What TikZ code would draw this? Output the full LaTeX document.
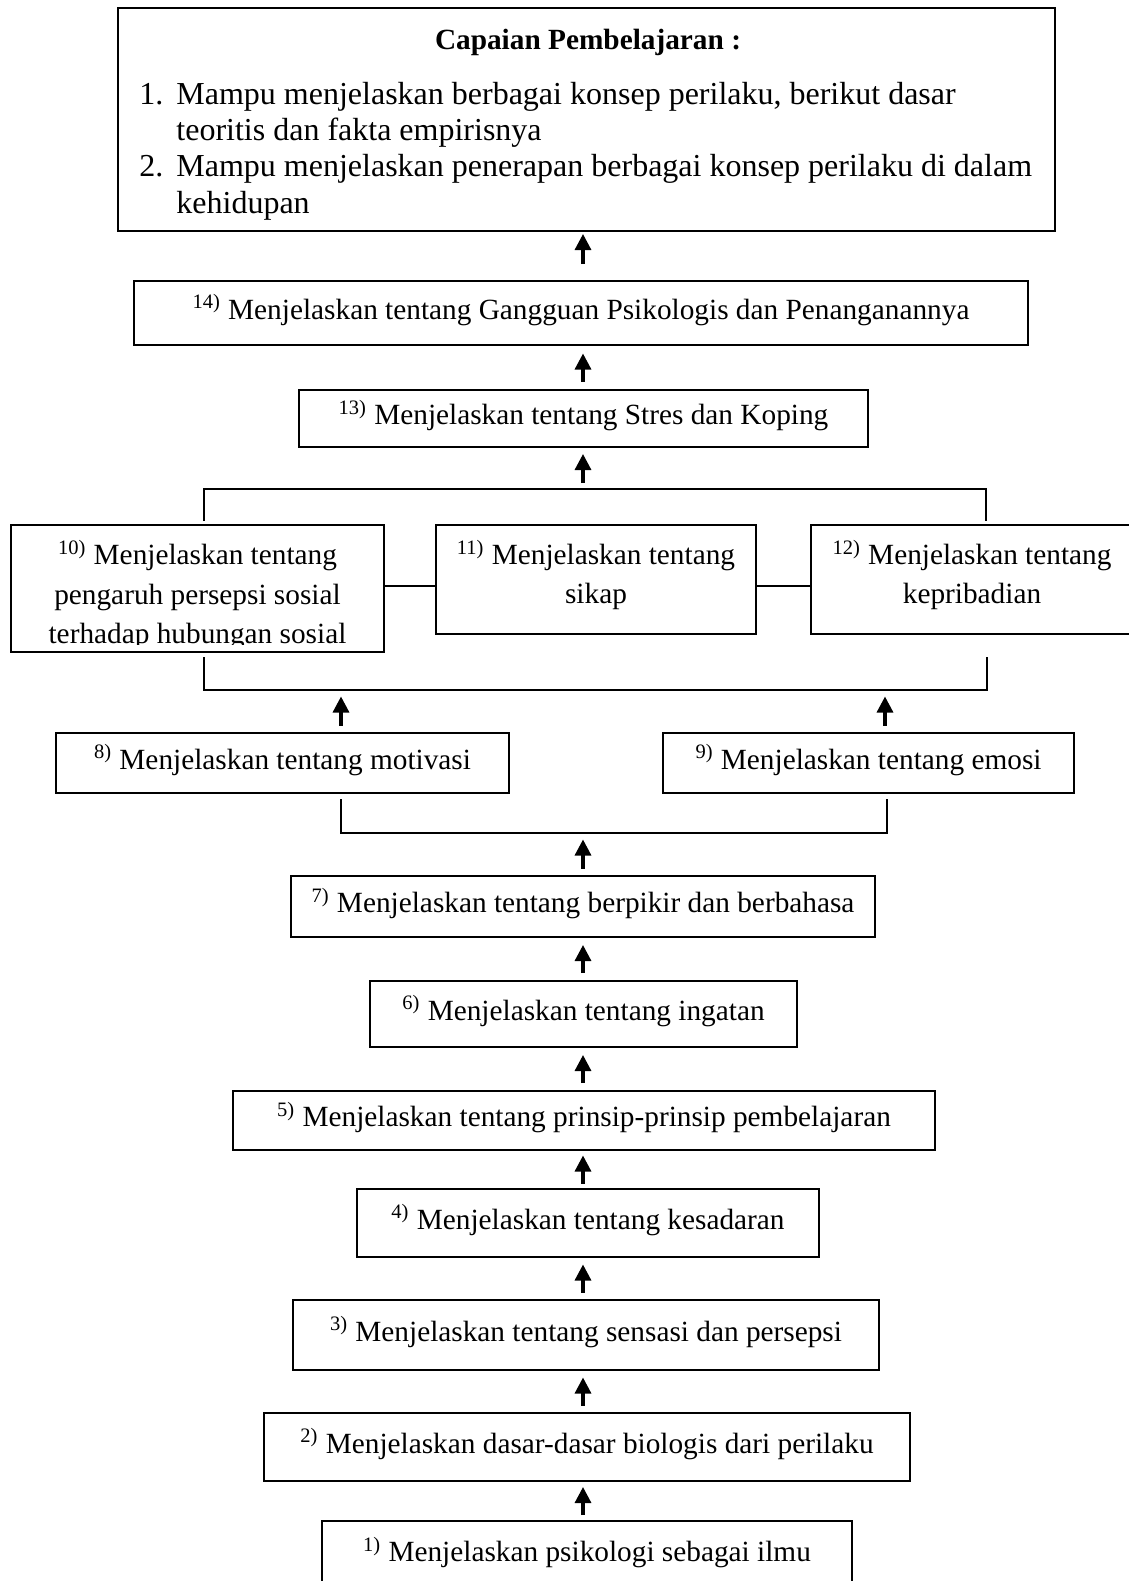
\documentclass[tikz,border=0pt]{standalone}
\usepackage{fontspec}
\setmainfont{Liberation Serif}
\usetikzlibrary{arrows.meta,calc}
\newcommand\boxfont{\fontsize{14.65pt}{19.65pt}\selectfont}
\newcommand\listfont{\fontsize{16pt}{18pt}\selectfont}
\begin{document}
\begin{tikzpicture}[x=0.5pt,y=-0.5pt,
  frame/.style={draw, line width=1pt, inner sep=0pt},
  box/.style={frame, font=\boxfont, text height=10pt, text depth=3.7pt},
  mtxt/.style={font=\boxfont, align=center, inner sep=0pt},
  listtxt/.style={anchor=base west, font=\listfont, inner sep=0pt},
  con/.style={line width=1pt},
  arr/.style={line width=1.6pt, -{Triangle[width=8pt,length=8pt]}},
  uparr/.style={arr, shorten <=#1, shorten >=#1}
]
\useasboundingbox (0,0) rectangle (1129,1581);
\clip (0,0) rectangle (1129,1581);

% top box
\node[frame, minimum width=468.5pt, minimum height=111.5pt] (top) at (586.5,119.5) {};
\node[anchor=base, font=\boxfont\bfseries, inner sep=0pt] (ttl) at (588,49) {Capaian Pembelajaran :};
\node[listtxt] (n1) at (139,104) {1.};
\node[listtxt] (l1) at (176,104) {Mampu menjelaskan berbagai konsep perilaku, berikut dasar};
\node[listtxt] (l2) at (176,140) {teoritis dan fakta empirisnya};
\node[listtxt] (n2) at (139,176) {2.};
\node[listtxt] (l3) at (176,176) {Mampu menjelaskan penerapan berbagai konsep perilaku di dalam};
\node[listtxt] (l4) at (176,213) {kehidupan};

% single boxes
\node[box, minimum width=447pt, minimum height=32pt] (b14) at (581,313) {\textsuperscript{14)} Menjelaskan tentang Gangguan Psikologis dan Penanganannya};
\node[box, minimum width=284.5pt, minimum height=28.5pt] (b13) at (583.5,418.5) {\textsuperscript{13)} Menjelaskan tentang Stres dan Koping};

% row of three
\node[frame, minimum width=186.5pt, minimum height=63.5pt] (b10) at (197.5,588.5) {};
\begin{scope}
\clip (11,525) rectangle (384,644);
\node[mtxt] (t10) at (197.5,595) {\textsuperscript{10)} Menjelaskan tentang\\pengaruh persepsi sosial\\terhadap hubungan sosial};
\end{scope}
\node[frame, minimum width=160pt, minimum height=54.5pt] (b11) at (596,579.5) {};
\node[mtxt] (t11) at (596,575) {\textsuperscript{11)} Menjelaskan tentang\\sikap};
\node[frame, minimum width=161pt, minimum height=54.5pt] (b12) at (972,579.5) {};
\node[mtxt] (t12) at (972,575) {\textsuperscript{12)} Menjelaskan tentang\\kepribadian};

\node[box, minimum width=226.5pt, minimum height=30pt] (b8) at (282.5,763) {\textsuperscript{8)} Menjelaskan tentang motivasi};
\node[box, minimum width=205.5pt, minimum height=30pt] (b9) at (868.5,763) {\textsuperscript{9)} Menjelaskan tentang emosi};
\node[box, minimum width=292pt, minimum height=30.5pt] (b7) at (583,906.5) {\textsuperscript{7)} Menjelaskan tentang berpikir dan berbahasa};
\node[box, minimum width=213.5pt, minimum height=33pt] (b6) at (583.5,1014) {\textsuperscript{6)} Menjelaskan tentang ingatan};
\node[box, minimum width=351pt, minimum height=29.5pt] (b5) at (584,1120.5) {\textsuperscript{5)} Menjelaskan tentang prinsip-prinsip pembelajaran};
\node[box, minimum width=231pt, minimum height=34pt] (b4) at (588,1223) {\textsuperscript{4)} Menjelaskan tentang kesadaran};
\node[box, minimum width=293pt, minimum height=35pt] (b3) at (586,1335) {\textsuperscript{3)} Menjelaskan tentang sensasi dan persepsi};
\node[box, minimum width=323pt, minimum height=34pt] (b2) at (587,1447) {\textsuperscript{2)} Menjelaskan dasar-dasar biologis dari perilaku};
\node[box, minimum width=265pt, minimum height=34.5pt] (b1) at (587,1555.5) {\textsuperscript{1)} Menjelaskan psikologi sebagai ilmu};

% helper coordinates
\coordinate (ax) at (583,0);
\coordinate (bx) at (885,0);
\coordinate (cy) at (0,586);
\coordinate (tbl) at (204,489);
\coordinate (tbr) at (986,489);
\coordinate (tbm) at (583,489);
\coordinate (lbl) at (204,690);
\coordinate (lbr) at (987,690);
\coordinate (mbl) at (341,833);
\coordinate (mbr) at (887,833);
\coordinate (mbm) at (583,833);

% brackets and side connectors
\draw[con] (204,521) -- (tbl) -- (tbr) -- (986,521);
\draw[con] (204,657) -- (lbl) -- (lbr) -- (987,657);
\draw[con] (341,799) -- (mbl) -- (mbr) -- (887,799);
\draw[con] (b10.east |- cy) -- (b11.west |- cy);
\draw[con] (b11.east |- cy) -- (b12.west |- cy);

% arrows
\draw[arr, shorten <=8pt, shorten >=1pt] (b14.north -| ax) -- (top.south -| ax);
\draw[uparr=3.75pt] (b13.north -| ax) -- (b14.south -| ax);
\draw[uparr=3pt] (tbm) -- (b13.south -| ax);
\draw[uparr=3.25pt] (b8.north -| mbl) -- (lbl -| mbl);
\draw[uparr=3.25pt] (b9.north -| bx) -- (lbr -| bx);
\draw[uparr=3.25pt] (b7.north -| ax) -- (mbm);
\draw[uparr=3.5pt] (b6.north -| ax) -- (b7.south -| ax);
\draw[uparr=3.5pt] (b5.north -| ax) -- (b6.south -| ax);
\draw[uparr=2.25pt] (b4.north -| ax) -- (b5.south -| ax);
\draw[uparr=3.25pt] (b3.north -| ax) -- (b4.south -| ax);
\draw[uparr=3.25pt] (b2.north -| ax) -- (b3.south -| ax);
\draw[uparr=2.5pt] (b1.north -| ax) -- (b2.south -| ax);
\end{tikzpicture}
\end{document}
